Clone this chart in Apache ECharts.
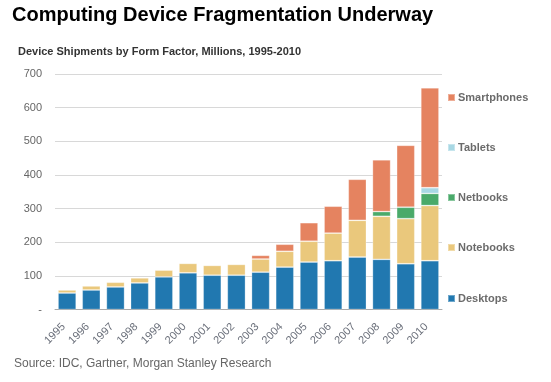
<!DOCTYPE html>
<html>
<head>
<meta charset="utf-8">
<script src="https://cdn.jsdelivr.net/npm/echarts@6/dist/echarts.min.js"></script>
<style>
html,body{margin:0;padding:0;background:#fff;}
#chart{width:551px;height:382px;}
</style>
</head>
<body>
<div id="chart"></div>
<script>
const years = ['1995','1996','1997','1998','1999','2000','2001','2002','2003','2004','2005','2006','2007','2008','2009','2010'];
const desktops    = [49, 58, 67, 79, 97, 109, 102, 102, 111, 126, 141, 145, 156, 149, 136, 145];
const notebooks   = [9, 12, 14, 15, 20, 28, 29, 32, 39, 47, 62, 82, 109, 128, 134, 164];
const netbooks    = [0, 0, 0, 0, 0, 0, 0, 0, 0, 0, 0, 0, 0, 14, 34, 36];
const tablets     = [0, 0, 0, 0, 0, 0, 0, 0, 0, 0, 0, 0, 0, 0, 0, 17];
const smartphones = [0, 0, 0, 0, 0, 0, 0, 0, 11, 21, 55, 80, 122, 154, 184, 297];
const yTicks = [0, 100, 200, 300, 400, 500, 600, 700];

const seriesDefs = [
  {name:'Desktops', data:desktops, color:'#2178b0', legendTop:293},
  {name:'Notebooks', data:notebooks, color:'#eac87c', legendTop:242},
  {name:'Netbooks', data:netbooks, color:'#4aaa6a', legendTop:192},
  {name:'Tablets', data:tablets, color:'#a8d8e4', legendTop:142},
  {name:'Smartphones', data:smartphones, color:'#e58360', legendTop:92}
];

const FONT = 'Liberation Sans, Arial, sans-serif';
const chart = echarts.init(document.getElementById('chart'), null, {renderer:'canvas'});
const option = {
  animation:false,
  backgroundColor:'#fff',
  title:[
    {text:'Computing Device Fragmentation Underway', left:12, top:5, padding:0,
     textStyle:{fontFamily:FONT, fontSize:20, fontWeight:'bold', color:'#000'}},
    {text:'Device Shipments by Form Factor, Millions, 1995-2010', left:18, top:46, padding:0,
     textStyle:{fontFamily:FONT, fontSize:11, fontWeight:'bold', color:'#333'}},
    {text:'Source: IDC, Gartner, Morgan Stanley Research', left:14, top:358, padding:0,
     textStyle:{fontFamily:FONT, fontSize:12, fontWeight:'normal', color:'#666'}}
  ],
  legend: seriesDefs.map(s => ({
    data:[s.name], orient:'vertical', left:447, top:s.legendTop, padding:0,
    icon:'rect', itemWidth:7, itemHeight:7, itemGap:0, selectedMode:false,
    textStyle:{fontFamily:FONT, fontSize:11, fontWeight:'bold', color:'#6b6b6b', padding:[0,0,0,-2]}
  })),
  grid:{left:55, right:109, top:74, bottom:72.5, containLabel:false},
  xAxis:{
    type:'category', data:years,
    axisLine:{show:true, lineStyle:{color:'#aaa', width:1}},
    axisTick:{show:false},
    axisLabel:{rotate:45, margin:12, padding:[0,5,0,0], color:'#6a6f7a', fontSize:11, fontFamily:FONT}
  },
  yAxis:{
    type:'value', min:0, max:700, interval:100,
    axisLine:{show:false}, axisTick:{show:false},
    splitLine:{lineStyle:{color:'#d8d8d8', width:1}},
    axisLabel:{margin:13, color:'#666', fontSize:11, fontFamily:FONT,
      formatter: v => (yTicks.indexOf(v) >= 0 && v === 0) ? '-' : String(v)}
  },
  series: seriesDefs.map(s => ({
    name:s.name, type:'bar', stack:'total', barCategoryGap:'25%',
    data:s.data.map(v => v === 0 ? null : v),
    itemStyle:{color:s.color, borderColor:'rgba(255,255,255,0.35)', borderWidth:0.8}
  }))
};
chart.setOption(option);
</script>
</body>
</html>
